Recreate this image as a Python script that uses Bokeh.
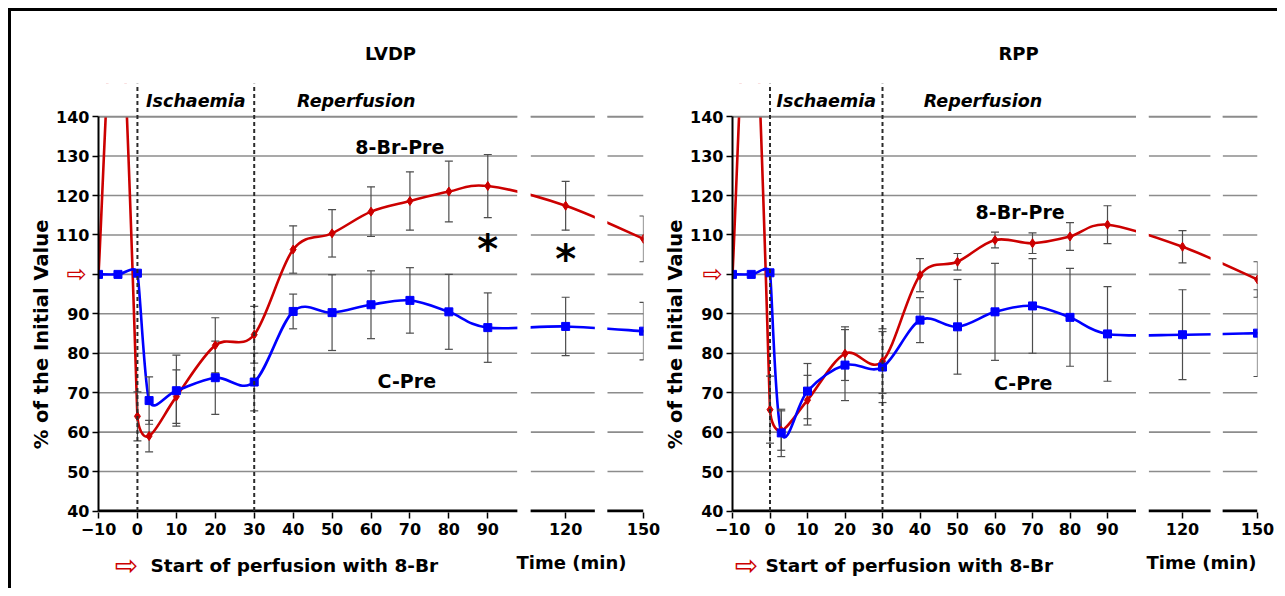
import numpy as np
from bokeh.plotting import figure
from bokeh.models import Range1d, FixedTicker, Label, LinearAxis
from bokeh.layouts import row, column
from bokeh.embed import file_html
from bokeh.resources import INLINE

# ---------------- data ----------------
times = [-10, -5, 0, 3, 10, 20, 30, 40, 50, 60, 70, 80, 90, 120, 150]

lvdp_8br = [100, 180, 64.0, 59.0, 69.0, 82.0, 84.7, 106.3, 110.4, 115.9, 118.6, 121.0, 122.4, 117.4, 109.0]
lvdp_8br_se = [0, 0, 6.2, 4.0, 6.8, 7.0, 7.2, 6.0, 6.0, 6.3, 7.4, 7.7, 8.0, 6.2, 5.8]
lvdp_c = [100, 100, 100.3, 68.0, 70.5, 73.8, 72.7, 90.6, 90.3, 92.3, 93.4, 90.5, 86.5, 86.8, 85.6]
lvdp_c_se = [0, 0, 0, 6.0, 9.0, 9.3, 7.3, 4.4, 9.6, 8.6, 8.3, 9.5, 8.8, 7.4, 7.3]

rpp_8br = [100, 185, 65.7, 60.4, 68.1, 79.9, 78.0, 99.8, 103.2, 108.7, 107.9, 109.6, 112.6, 107.0, 98.7]
rpp_8br_se = [0, 0, 8.5, 5.0, 6.3, 6.8, 8.2, 4.2, 2.1, 2.0, 2.6, 3.5, 4.8, 4.1, 4.5]
rpp_c = [100, 100, 100.4, 59.8, 70.4, 77.0, 76.5, 88.4, 86.7, 90.5, 92.0, 89.1, 84.9, 84.7, 85.1]
rpp_c_se = [0, 0, 0, 6.0, 7.0, 9.0, 9.0, 5.7, 12.0, 12.3, 12.0, 12.4, 12.0, 11.4, 11.0]

star_times = [90, 120]
star_values = [107.3, 104.7]

x_tick_times = [-10, 0, 10, 20, 30, 40, 50, 60, 70, 80, 90, 120, 150]
x_tick_labels = ["\u221210", "0", "10", "20", "30", "40", "50", "60", "70", "80", "90", "120", "150"]
y_ticks = [40, 50, 60, 70, 80, 90, 100, 110, 120, 130, 140]

# broken time axis: 120 and 150 min are drawn closer
break_positions = {120: 110, 150: 130}
axis_pieces = [(-10, 97.6), (101.0, 117.5), (120.7, 130)]
gaps = [(97.6, 101.0), (117.5, 120.7)]

RED = "#CC0000"
BLUE = "#0000FF"
GRID = "#8c8c8c"
EBAR = "#4d4d4d"
FONT = "DejaVu Sans"
Y_LABEL = "% of the Initial Value"
Y_TOP = 148.4


def tpos(t):
    return break_positions.get(t, t)


def smooth_curve(p, xs, ys, color):
    P = np.column_stack([xs, ys]).astype(float)
    n = len(P)
    T = []
    for i in range(n):
        prev = P[i - 1] if i > 0 else P[i]
        nxt = P[i + 1] if i < n - 1 else P[i]
        t = nxt - prev
        L = float(np.hypot(t[0], t[1]))
        ds = []
        if i > 0:
            ds.append(float(np.hypot(*(P[i] - P[i - 1]))))
        if i < n - 1:
            ds.append(float(np.hypot(*(P[i + 1] - P[i]))))
        cap = 0.5 * min(ds)
        s = min(1.0 / 6.0, cap / L) if L > 0 else 0.0
        T.append(t * s)
    T = np.array(T)
    p.bezier(x0=P[:-1, 0], y0=P[:-1, 1], x1=P[1:, 0], y1=P[1:, 1],
             cx0=P[:-1, 0] + T[:-1, 0], cy0=P[:-1, 1] + T[:-1, 1],
             cx1=P[1:, 0] - T[1:, 0], cy1=P[1:, 1] - T[1:, 1],
             line_color=color, line_width=2.6, line_cap="round")


def error_bars(p, xs, ys, se):
    xe = [x for x, e in zip(xs, se) if e > 0]
    lo = [y - e for y, e in zip(ys, se) if e > 0]
    hi = [y + e for y, e in zip(ys, se) if e > 0]
    p.segment(x0=xe, y0=lo, x1=xe, y1=hi, line_color=EBAR, line_width=1.2)
    p.scatter(xe + xe, lo + hi, marker="dash", size=8, line_color=EBAR, line_width=1.2)


def lbl(p, x, y, text, size, style="bold", color="black", align="center", xo=0, yo=0,
        baseline="middle", angle=0):
    p.add_layout(Label(x=x, y=y, text=text, text_font=FONT, text_font_size=size,
                       text_font_style=style, text_color=color, text_align=align,
                       text_baseline=baseline, x_offset=xo, y_offset=yo,
                       angle=angle, angle_units="deg"))


def strip(w, h):
    s = figure(width=w, height=h, x_range=Range1d(0, w), y_range=Range1d(h, 0),
               output_backend="svg", toolbar_location=None,
               x_axis_location=None, y_axis_location=None, min_border=0)
    s.outline_line_color = None
    s.grid.visible = False
    return s


def panel(y8, e8, yc, ec, width, geo, stars):
    p = figure(width=width, height=477, x_range=Range1d(-10, 130), y_range=Range1d(39.62, Y_TOP),
               output_backend="svg", toolbar_location=None,
               min_border_left=44, min_border_right=20, min_border_top=12, min_border_bottom=36)
    p.outline_line_color = None
    p.xgrid.visible = False
    p.ygrid.visible = False

    # axes
    p.xaxis.ticker = FixedTicker(ticks=[tpos(t) for t in x_tick_times])
    p.xaxis.major_label_overrides = {tpos(t): s for t, s in zip(x_tick_times, x_tick_labels)}
    p.xaxis.axis_line_color = None
    p.yaxis.ticker = FixedTicker(ticks=y_ticks)
    p.yaxis.major_label_overrides = {100: ""}
    p.yaxis.bounds = (40, 140)
    p.yaxis.axis_line_width = 2
    p.yaxis.axis_line_color = "black"
    for ax in (p.xaxis, p.yaxis):
        ax.major_tick_out = 6
        ax.major_tick_in = 0
        ax.minor_tick_line_color = None
        ax.major_tick_line_color = "black"
        ax.major_tick_line_width = 1.5
        ax.major_label_text_font = FONT
        ax.major_label_text_font_size = "16px"
        ax.major_label_text_font_style = "bold"
        ax.major_label_text_color = "black"
    p.xaxis.major_label_standoff = 4
    p.yaxis.major_label_standoff = 3

    # red arrow in place of the "100" tick label
    arrow_axis = LinearAxis(ticker=FixedTicker(ticks=[100]), major_label_overrides={100: "\u21e8"},
                            axis_line_color=None, major_tick_line_color=None,
                            minor_tick_line_color=None, major_tick_out=0, major_tick_in=0,
                            major_label_text_color=RED, major_label_text_font=FONT,
                            major_label_text_font_size="24px", major_label_standoff=geo["arrow_standoff"])
    p.add_layout(arrow_axis, "left")

    # grid lines with breaks
    gy = [v for v in y_ticks if v > 40]
    for a, b in axis_pieces:
        p.segment(x0=[a] * len(gy), y0=gy, x1=[b] * len(gy), y1=gy, line_color=GRID, line_width=1.6)

    xs = [tpos(t) for t in times]
    smooth_curve(p, xs, y8, RED)
    smooth_curve(p, xs, yc, BLUE)

    # white masks: axis breaks and area above 140
    for a, b in gaps:
        p.quad(left=a, right=b, bottom=30, top=160, fill_color="white", line_color=None)
    p.quad(left=-12, right=132, bottom=140, top=160, fill_color="white", line_color=None)
    p.segment(x0=[-12], y0=[Y_TOP], x1=[132], y1=[Y_TOP], line_color="white", line_width=5)
    for a, b in axis_pieces:
        p.segment(x0=[a], y0=[140], x1=[b], y1=[140], line_color=GRID, line_width=1.6)
        p.segment(x0=[a], y0=[40], x1=[b], y1=[40], line_color="black", line_width=2.8)

    error_bars(p, xs, y8, e8)
    error_bars(p, xs, yc, ec)
    vis8 = [(x, y) for x, y in zip(xs, y8) if y <= 140]
    p.scatter([v[0] for v in vis8], [v[1] for v in vis8], marker="diamond", size=9,
              fill_color=RED, line_color=RED)
    p.scatter(xs, yc, marker="square", size=8, fill_color=BLUE, line_color=BLUE)

    # ischaemia / reperfusion boundaries
    p.segment(x0=[0, 30], y0=[40, 40], x1=[0, 30], y1=[Y_TOP, Y_TOP], line_color="#2b2b2b",
              line_width=2, line_dash="4 3")

    lbl(p, 15, 144, "Ischaemia", "17.5px", style="bold italic")
    lbl(p, 41, 144, "Reperfusion", "17.5px", style="bold italic", align="left")
    lbl(p, geo["br_x"], geo["br_y"], "8-Br-Pre", "19px")
    lbl(p, geo["c_x"], geo["c_y"], "C-Pre", "19px")
    if stars:
        for t, v in zip(star_times, star_values):
            lbl(p, tpos(t), v, "*", "40px", yo=-3)
    return p


p1 = panel(lvdp_8br, lvdp_8br_se, lvdp_c, lvdp_c_se, 610,
           dict(br_x=67.4, br_y=132.4, c_x=69.2, c_y=73.0, arrow_standoff=-33), True)
p2 = panel(rpp_8br, rpp_8br_se, rpp_c, rpp_c_se, 590,
           dict(br_x=66.7, br_y=115.7, c_x=67.5, c_y=72.5, arrow_standoff=-35), False)

# y-axis titles
ls1 = strip(42, 477)
lbl(ls1, 30, 279, Y_LABEL, "19.5px", angle=90)
ls2 = strip(24, 477)
lbl(ls2, 12, 279, Y_LABEL, "19.5px", angle=90)

# panel titles
top = strip(1266, 60)
lbl(top, 379, 42, "LVDP", "18px")
lbl(top, 1007, 42, "RPP", "18px")

# notes below the time axes
bottom = strip(1266, 40)
lbl(bottom, 115, 17, "\u21e8", "28px", style="normal", color=RED)
lbl(bottom, 139, 17, "Start of perfusion with 8-Br", "18.5px", align="left")
lbl(bottom, 560, 14, "Time (min)", "18px")
lbl(bottom, 735, 17, "\u21e8", "28px", style="normal", color=RED)
lbl(bottom, 754, 17, "Start of perfusion with 8-Br", "18.5px", align="left")
lbl(bottom, 1190, 14, "Time (min)", "18px")

layout = column(top, row(ls1, p1, ls2, p2), bottom, margin=(8, 0, 0, 8),
                styles={"border-top": "3px solid black", "border-left": "3px solid black"})
open("out.html", "w").write(file_html(layout, INLINE))
